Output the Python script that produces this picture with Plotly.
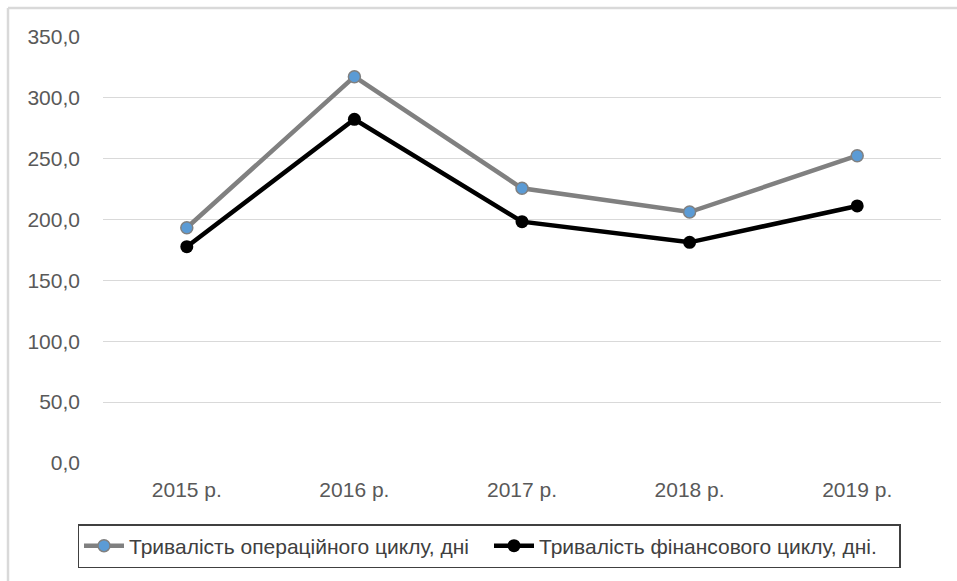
import plotly.graph_objects as go

# Duration of the operating and financial cycles by year, days
years = ["2015 р.", "2016 р.", "2017 р.", "2018 р.", "2019 р."]
operating_cycle = [193.3, 317.4, 225.7, 206.2, 252.5]
financial_cycle = [177.7, 282.4, 198.3, 181.3, 211.2]
y_ticks = [0, 50, 100, 150, 200, 250, 300, 350]

name_operating = "Тривалість операційного циклу, дні"
name_financial = "Тривалість фінансового циклу, дні."

W, H = 957, 581
L, R, T, B = 103, 16, 37, 118
plot_w = W - L - R
plot_h = H - T - B

FONT = "Liberation Sans, Arial, sans-serif"

fig = go.Figure()
fig.add_trace(go.Scatter(
    x=years, y=operating_cycle, name=name_operating,
    mode="lines+markers",
    line=dict(color="#808080", width=4.5),
    marker=dict(size=12, color="#5b9bd5", line=dict(color="#808080", width=1.5)),
))
fig.add_trace(go.Scatter(
    x=years, y=financial_cycle, name=name_financial,
    mode="lines+markers",
    line=dict(color="#000000", width=4.5),
    marker=dict(size=13, color="#000000"),
))


def px_x(px):
    return (px - L) / plot_w


def px_y(py):
    return (H - B - py) / plot_h


# light chart frame (top and left edges)
frame = dict(type="line", xref="paper", yref="paper",
             line=dict(color="#d9d9d9", width=2.5), layer="below")
fig.add_shape(**frame, x0=px_x(8), x1=px_x(W), y0=px_y(8), y1=px_y(8))
fig.add_shape(**frame, x0=px_x(8), x1=px_x(8), y0=px_y(8), y1=px_y(H))

fig.update_layout(
    width=W, height=H,
    margin=dict(l=L, r=R, t=T, b=B),
    paper_bgcolor="white", plot_bgcolor="white",
    separators=", ",
    font=dict(family=FONT, size=21, color="#595959"),
    showlegend=True,
    legend=dict(
        orientation="h", x=px_x(489), xanchor="center",
        y=px_y(524), yanchor="top",
        bordercolor="#404040", borderwidth=1.5,
        font=dict(family=FONT, size=21, color="#404040"),
        itemwidth=40, tracegroupgap=0,
        entrywidth=355, entrywidthmode="pixels",
    ),
    xaxis=dict(
        range=[-0.5, len(years) - 0.5],
        showgrid=False, showline=False, zeroline=False,
        ticks="", ticklabelstandoff=12,
        tickfont=dict(family=FONT, size=21, color="#595959"),
    ),
    yaxis=dict(
        range=[0, 350], tickvals=y_ticks, tickformat=".1f",
        showgrid=True, gridcolor="#d9d9d9", gridwidth=1,
        zeroline=False, showline=False, ticks="",
        ticklabelstandoff=22,
        tickfont=dict(family=FONT, size=21, color="#595959"),
    ),
)

fig.write_html("out.html")
